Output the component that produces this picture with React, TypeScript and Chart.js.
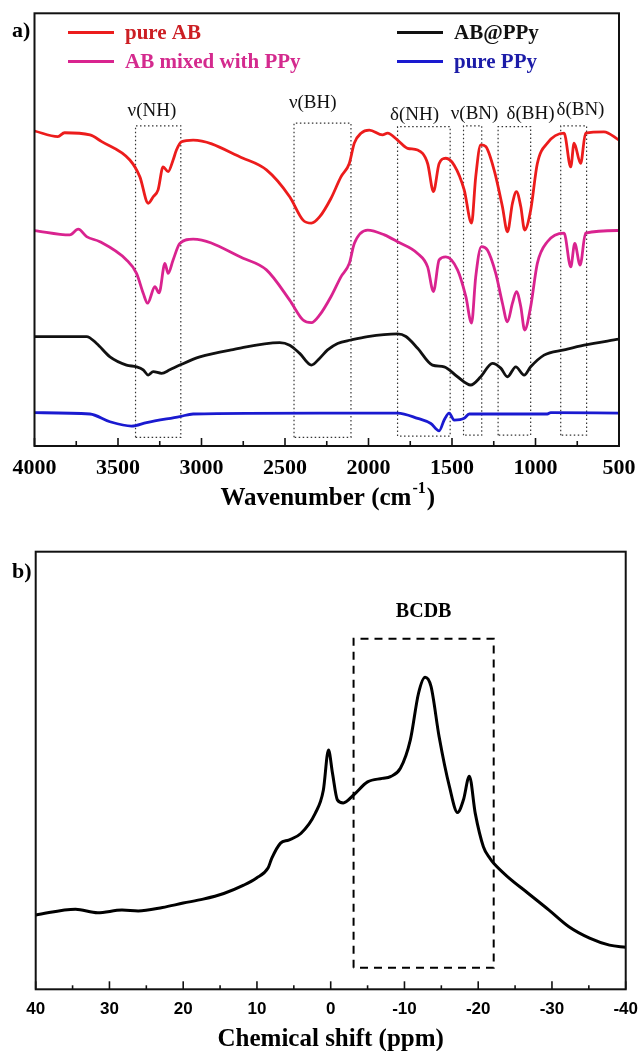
import React, { useEffect, useRef } from "react";
import { Chart, registerables } from "chart.js";
Chart.register(...registerables);

const SERIF = '"Liberation Serif", "Times New Roman", serif';
const SANS = '"Liberation Sans", Arial, sans-serif';

// ---------- Panel a: FTIR spectra (wavenumber cm-1, transmittance a.u.) ----------
const pureAB_wn = [4000, 3860, 3820, 3668, 3600, 3429, 3369, 3319, 3289, 3260, 3230, 3200, 3170, 3150, 3120, 3050, 2751, 2611, 2472, 2392, 2342, 2292, 2225, 2165, 2115, 2085, 2045, 1995, 1916, 1886, 1826, 1766, 1706, 1646, 1611, 1577, 1537, 1487, 1427, 1383, 1358, 1328, 1298, 1248, 1198, 1168, 1138, 1114, 1088, 1065, 1029, 989, 929, 829, 789, 769, 730, 700, 590, 500];
const pureAB_T = [72.8, 71.5, 72.4, 71.9, 70.4, 66.1, 62.2, 56.1, 57.6, 59.2, 64.5, 63.4, 66.1, 68.4, 70.3, 70.7, 66.5, 63.8, 57.6, 52.2, 51.5, 53.0, 57.2, 62.2, 65.3, 70.0, 72.3, 73.0, 71.9, 72.3, 70.7, 68.8, 68.4, 65.3, 58.8, 65.3, 66.5, 64.9, 59.2, 51.5, 62.2, 69.6, 69.2, 63.8, 55.3, 49.5, 56.1, 58.8, 55.3, 49.9, 54.5, 65.3, 70.0, 72.3, 64.5, 70.0, 65.3, 72.3, 72.6, 70.7];

const mixed_wn = [4000, 3788, 3738, 3688, 3608, 3449, 3389, 3349, 3323, 3279, 3254, 3219, 3200, 3170, 3130, 3050, 2751, 2611, 2472, 2392, 2342, 2292, 2225, 2165, 2115, 2085, 2005, 1905, 1826, 1706, 1646, 1611, 1577, 1537, 1467, 1417, 1383, 1358, 1324, 1288, 1238, 1198, 1168, 1138, 1114, 1088, 1065, 1029, 989, 929, 829, 789, 765, 733, 700, 500];
const mixed_T = [49.8, 48.8, 50.1, 48.4, 47.2, 43.0, 39.9, 35.3, 33.0, 36.8, 35.4, 42.2, 39.9, 43.0, 46.8, 47.8, 43.4, 40.7, 33.7, 29.1, 28.5, 30.3, 34.5, 39.1, 42.2, 46.8, 49.9, 48.8, 47.2, 44.5, 41.4, 35.7, 43.0, 43.7, 40.7, 34.5, 28.4, 39.1, 46.1, 45.3, 39.9, 33.0, 28.7, 33.0, 35.7, 32.2, 26.8, 32.2, 42.2, 47.2, 49.2, 41.4, 46.8, 41.8, 49.2, 49.8];

const abppy_wn = [4000, 3688, 3628, 3548, 3449, 3389, 3349, 3319, 3289, 3239, 3190, 3130, 3010, 2811, 2532, 2472, 2412, 2342, 2292, 2245, 2185, 2105, 2005, 1826, 1776, 1706, 1617, 1547, 1467, 1388, 1328, 1258, 1208, 1168, 1118, 1068, 1029, 949, 829, 709, 500];
const abppy_T = [25.3, 25.3, 23.7, 20.6, 18.7, 18.3, 17.6, 16.4, 17.2, 16.8, 17.6, 18.7, 20.6, 22.3, 23.9, 23.3, 21.4, 18.7, 20.3, 22.2, 23.7, 24.5, 25.3, 25.9, 25.3, 22.6, 18.7, 18.3, 16.0, 14.1, 16.0, 19.1, 18.0, 16.0, 18.3, 16.4, 18.3, 21.0, 22.2, 23.3, 24.7];

const ppy_wn = [4000, 3668, 3548, 3419, 3329, 3130, 3050, 2292, 1826, 1706, 1627, 1577, 1547, 1517, 1487, 1427, 1397, 929, 909, 500];
const ppy_T = [7.7, 7.4, 5.6, 4.6, 5.4, 6.8, 7.4, 7.6, 7.6, 6.4, 5.2, 3.5, 6.0, 7.6, 6.0, 6.4, 7.4, 7.4, 7.7, 7.6];

const irSeriesNames = ["pure AB", "AB mixed with PPy", "AB@PPy", "pure PPy"];

// band regions (dotted boxes)
const irBandLabels = ["ν(NH)", "ν(BH)", "δ(NH)", "ν(BN)", "δ(BH)", "δ(BN)"];
const irBandFrom = [3395, 2446, 1826, 1431, 1224, 849];
const irBandTo = [3124, 2105, 1511, 1322, 1029, 694];
const irBandTop = [74.0, 74.6, 73.8, 74.0, 73.8, 74.0];
const irBandBottom = [2.0, 2.0, 2.3, 2.5, 2.5, 2.5];
const irBandLabelWn = [3297, 2334, 1724, 1365, 1030, 731];
const irBandLabelY = [77.4, 79.3, 76.5, 76.7, 76.7, 77.6];

// ---------- Panel b: NMR spectrum (chemical shift ppm, intensity a.u.) ----------
const nmrShift = [40, 34.6, 31.6, 28.3, 26.1, 22.8, 20.0, 17.3, 14.5, 11.8, 10.1, 8.5, 8.0, 6.8, 5.7, 4.05, 2.1, 1.0, 0.3, -0.24, -0.9, -1.7, -3.1, -5.0, -7.0, -8.1, -9.45, -10.8, -11.9, -12.8, -13.6, -14.7, -16.1, -17.2, -18.0, -18.8, -19.6, -20.7, -21.6, -22.1, -24.0, -26.8, -29.6, -32.3, -35.1, -37.8, -40];
const nmrIntensity = [17.0, 18.3, 17.5, 18.1, 17.9, 18.7, 19.7, 20.6, 21.9, 23.8, 25.4, 27.7, 29.9, 33.4, 34.1, 35.6, 40.2, 45.5, 54.7, 49.4, 43.3, 42.6, 44.4, 47.4, 48.2, 48.6, 50.5, 57.0, 67.6, 71.3, 69.2, 57.7, 46.3, 40.4, 43.3, 48.7, 40.2, 32.6, 29.9, 28.8, 25.7, 21.9, 18.1, 14.3, 11.7, 10.1, 9.6];
const bcdbLabel = "BCDB";
const bcdbFrom = -3.1;
const bcdbTo = -22.1;
const bcdbTop = 80.1;
const bcdbBottom = 4.9;
const bcdbLabelX = -12.6;
const bcdbLabelY = 86.2;

// ---------- helpers ----------
const pts = (xs: number[], ys: number[]) => xs.map((x, i) => ({ x, y: ys[i] }));
const rect = (x0: number, x1: number, y0: number, y1: number) => [
  { x: x0, y: y0 },
  { x: x0, y: y1 },
  { x: x1, y: y1 },
  { x: x1, y: y0 },
  { x: x0, y: y0 },
];

function frameTicksPlugin(majorLen: number, minorLen: number) {
  return {
    id: "frameTicks",
    afterDatasetsDraw(chart: any) {
      const { ctx, chartArea: ca } = chart;
      const x = chart.scales.x;
      ctx.save();
      ctx.strokeStyle = "#111";
      ctx.lineWidth = 1.6;
      const vals = x.ticks.map((t: any) => t.value);
      vals.forEach((v: number) => {
        const px = x.getPixelForValue(v);
        ctx.beginPath();
        ctx.moveTo(px, ca.bottom);
        ctx.lineTo(px, ca.bottom - majorLen);
        ctx.stroke();
      });
      for (let i = 0; i < vals.length - 1; i++) {
        const px = x.getPixelForValue((vals[i] + vals[i + 1]) / 2);
        ctx.beginPath();
        ctx.moveTo(px, ca.bottom);
        ctx.lineTo(px, ca.bottom - minorLen);
        ctx.stroke();
      }
      ctx.lineWidth = 2;
      ctx.strokeRect(ca.left, ca.top, ca.right - ca.left, ca.bottom - ca.top);
      ctx.restore();
    },
  };
}

const irColors = ["#ec1c1c", "#d9238f", "#111111", "#1a1ad0"];
const irTextColors = ["#cc1f24", "#d42a8e", "#111111", "#1c1ca8"];

const irDecorPlugin = {
  id: "irDecor",
  afterDraw(chart: any) {
    const { ctx } = chart;
    const x = chart.scales.x;
    const y = chart.scales.y;
    ctx.save();
    // panel label
    ctx.fillStyle = "#000";
    ctx.font = `bold 22px ${SERIF}`;
    ctx.textAlign = "left";
    ctx.textBaseline = "alphabetic";
    ctx.fillText("a)", 12, 37);
    // legend (2 x 2)
    const slots = [
      [68, 32.5],
      [68, 61.5],
      [397, 32.5],
      [397, 61.5],
    ];
    ctx.font = `bold 21px ${SERIF}`;
    ctx.textBaseline = "middle";
    irSeriesNames.forEach((name, i) => {
      const [lx, ly] = slots[i];
      ctx.strokeStyle = irColors[i];
      ctx.lineWidth = 3;
      ctx.beginPath();
      ctx.moveTo(lx, ly);
      ctx.lineTo(lx + 46, ly);
      ctx.stroke();
      ctx.fillStyle = irTextColors[i];
      ctx.fillText(name, lx + 57, ly + 1);
    });
    // band labels
    ctx.fillStyle = "#111";
    ctx.font = `19px ${SERIF}`;
    ctx.textAlign = "center";
    irBandLabels.forEach((lab, i) => {
      ctx.fillText(lab, x.getPixelForValue(irBandLabelWn[i]), y.getPixelForValue(irBandLabelY[i]));
    });
    // axis title with superscript
    const cx = (chart.chartArea.left + chart.chartArea.right) / 2;
    const base = 505;
    ctx.textAlign = "left";
    ctx.textBaseline = "alphabetic";
    ctx.fillStyle = "#000";
    const main = "Wavenumber (cm";
    const sup = "-1";
    const close = ")";
    ctx.font = `bold 25px ${SERIF}`;
    const w1 = ctx.measureText(main).width;
    const w3 = ctx.measureText(close).width;
    ctx.font = `bold 16px ${SERIF}`;
    const w2 = ctx.measureText(sup).width;
    const sx = cx - (w1 + w2 + w3) / 2;
    ctx.font = `bold 25px ${SERIF}`;
    ctx.fillText(main, sx, base);
    ctx.font = `bold 16px ${SERIF}`;
    ctx.fillText(sup, sx + w1 + 1, base - 12);
    ctx.font = `bold 25px ${SERIF}`;
    ctx.fillText(close, sx + w1 + w2 + 2, base);
    ctx.restore();
  },
};

const nmrDecorPlugin = {
  id: "nmrDecor",
  afterDraw(chart: any) {
    const { ctx } = chart;
    const x = chart.scales.x;
    const y = chart.scales.y;
    ctx.save();
    ctx.fillStyle = "#000";
    ctx.font = `bold 22px ${SERIF}`;
    ctx.textAlign = "left";
    ctx.textBaseline = "alphabetic";
    ctx.fillText("b)", 12, 53);
    ctx.font = `bold 20px ${SERIF}`;
    ctx.textAlign = "center";
    ctx.textBaseline = "middle";
    ctx.fillText(bcdbLabel, x.getPixelForValue(bcdbLabelX), y.getPixelForValue(bcdbLabelY));
    const cx = (chart.chartArea.left + chart.chartArea.right) / 2;
    ctx.font = `bold 25px ${SERIF}`;
    ctx.textBaseline = "alphabetic";
    ctx.fillText("Chemical shift (ppm)", cx, 521);
    ctx.restore();
  },
};

function IRChart() {
  const ref = useRef<HTMLCanvasElement>(null);
  useEffect(() => {
    const series = [
      pts(pureAB_wn, pureAB_T),
      pts(mixed_wn, mixed_T),
      pts(abppy_wn, abppy_T),
      pts(ppy_wn, ppy_T),
    ];
    const datasets: any[] = series.map((d, i) => ({
      label: irSeriesNames[i],
      data: d,
      borderColor: irColors[i],
      borderWidth: 2.8,
      pointRadius: 0,
      cubicInterpolationMode: "monotone",
      fill: false,
    }));
    irBandLabels.forEach((lab, i) => {
      datasets.push({
        label: lab,
        data: rect(irBandFrom[i], irBandTo[i], irBandBottom[i], irBandTop[i]),
        borderColor: "#333",
        borderWidth: 1.2,
        borderDash: [1.5, 2.5],
        pointRadius: 0,
        tension: 0,
        fill: false,
      });
    });
    const chart = new Chart(ref.current!, {
      type: "line",
      data: { datasets },
      options: {
        responsive: false,
        animation: false,
        layout: { padding: { left: 34.5, right: 19, top: 13.3, bottom: 0 } },
        plugins: { legend: { display: false }, tooltip: { enabled: false } },
        scales: {
          x: {
            type: "linear",
            reverse: true,
            min: 500,
            max: 4000,
            ticks: {
              stepSize: 500,
              autoSkip: false,
              maxRotation: 0,
              padding: 0,
              color: "#000",
              font: { family: SERIF, weight: "bold", size: 22 },
              callback: (v: any) => String(v),
            },
            grid: { display: false, drawTicks: true, tickLength: 9.5 },
            border: { display: false },
            afterFit: (s: any) => {
              s.height = 79;
            },
          },
          y: { display: false, min: 0, max: 100 },
        },
      } as any,
      plugins: [frameTicksPlugin(8, 5), irDecorPlugin],
    });
    return () => chart.destroy();
  }, []);
  return <canvas ref={ref} width={638} height={525} style={{ display: "block" }} />;
}

function NMRChart() {
  const ref = useRef<HTMLCanvasElement>(null);
  useEffect(() => {
    const chart = new Chart(ref.current!, {
      type: "line",
      data: {
        datasets: [
          {
            label: "11B NMR",
            data: pts(nmrShift, nmrIntensity),
            borderColor: "#000",
            borderWidth: 3,
            pointRadius: 0,
            cubicInterpolationMode: "monotone",
            fill: false,
          } as any,
          {
            label: bcdbLabel,
            data: rect(bcdbFrom, bcdbTo, bcdbBottom, bcdbTop),
            borderColor: "#000",
            borderWidth: 2,
            borderDash: [8, 6],
            pointRadius: 0,
            tension: 0,
            fill: false,
          },
        ],
      },
      options: {
        responsive: false,
        animation: false,
        layout: { padding: { left: 35.7, right: 11.5, top: 26.7, bottom: 0 } },
        plugins: { legend: { display: false }, tooltip: { enabled: false } },
        scales: {
          x: {
            type: "linear",
            reverse: true,
            min: -40,
            max: 40,
            ticks: {
              stepSize: 10,
              autoSkip: false,
              maxRotation: 0,
              padding: 0,
              color: "#000",
              font: { family: SANS, weight: "bold", size: 17 },
              callback: (v: any) => String(v),
            },
            grid: { display: false, drawTicks: true, tickLength: 9.5 },
            border: { display: false },
            afterFit: (s: any) => {
              s.height = 61.7;
            },
          },
          y: { display: false, min: 0, max: 100 },
        },
      } as any,
      plugins: [frameTicksPlugin(8, 4), nmrDecorPlugin],
    });
    return () => chart.destroy();
  }, []);
  return <canvas ref={ref} width={638} height={526} style={{ display: "block" }} />;
}

export default function App() {
  return (
    <div style={{ position: "absolute", left: 0, top: 0, width: 638, height: 1051, background: "#fff" }}>
      <IRChart />
      <NMRChart />
    </div>
  );
}
